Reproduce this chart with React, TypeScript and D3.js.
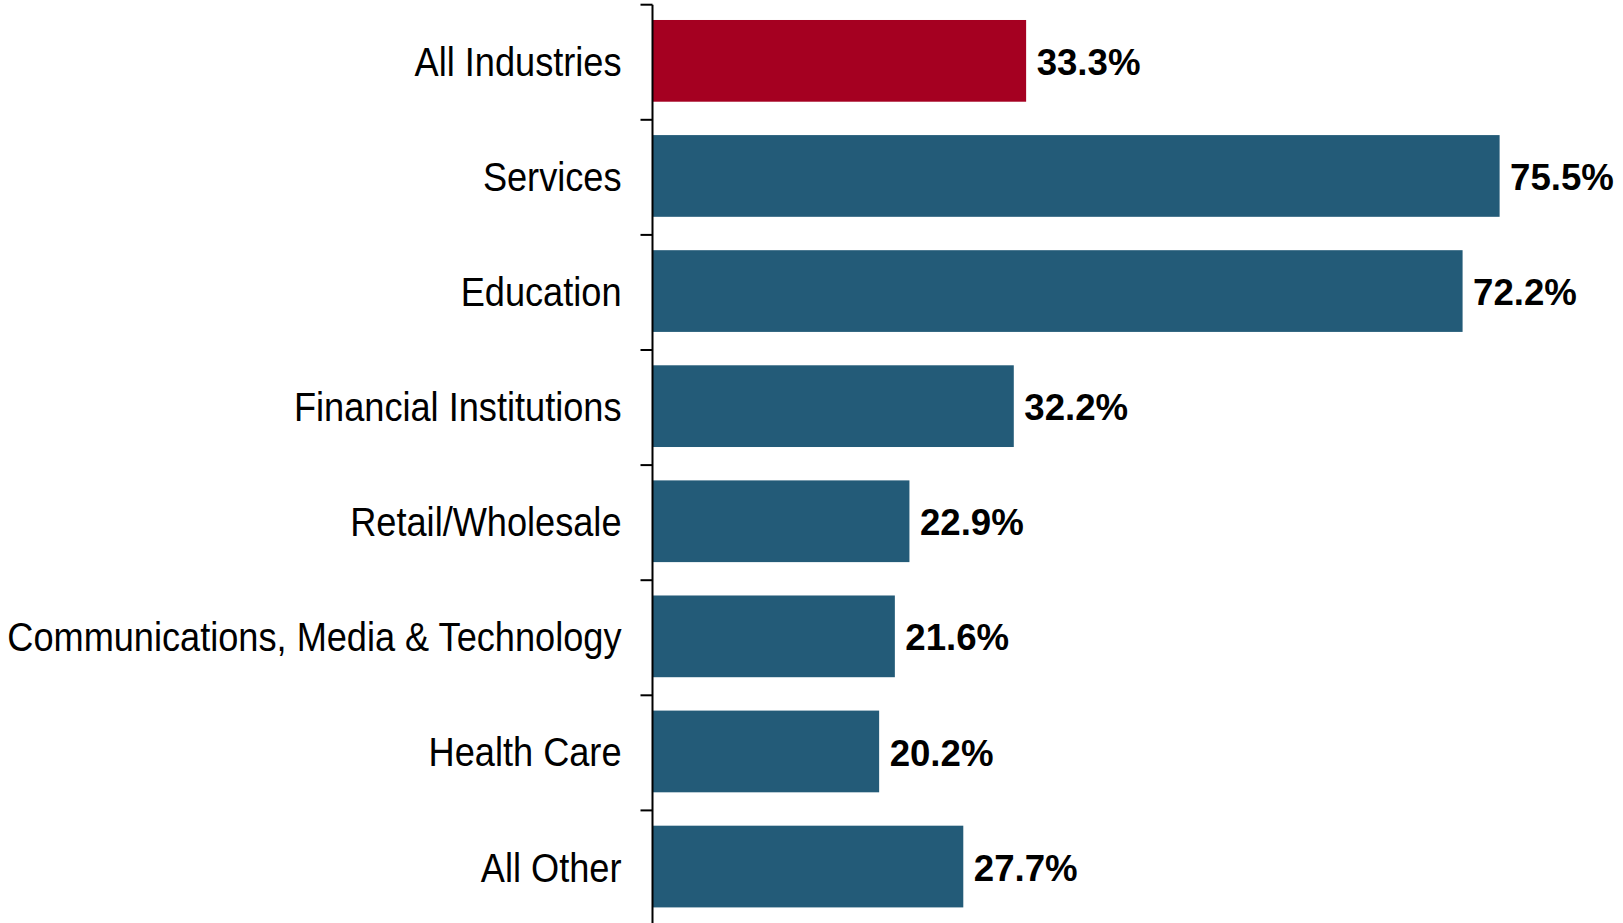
import React from "react";
import * as d3 from "d3";

const categories = [
  "All Industries",
  "Services",
  "Education",
  "Financial Institutions",
  "Retail/Wholesale",
  "Communications, Media & Technology",
  "Health Care",
  "All Other",
];
const values = [33.3, 75.5, 72.2, 32.2, 22.9, 21.6, 20.2, 27.7];
const highlight = ["All Industries"];

const W = 1623;
const H = 923;
const axisX = 652.5;
const top = 3.3;
const step = 115.1;

export default function App() {
  const x = d3.scaleLinear().domain([0, 80]).range([axisX, axisX + 80 * 11.22]);
  const y = d3
    .scaleBand<string>()
    .domain(categories)
    .range([top, top + step * categories.length])
    .paddingInner(0.29)
    .paddingOuter(0.145);
  const st = y.step();
  const font = "'Liberation Sans', Arial, sans-serif";
  return (
    <svg
      width={W}
      height={H}
      style={{ position: "absolute", left: 0, top: 0, background: "#fff" }}
    >
      {categories.map((c, i) => {
        const yy = y(c)!;
        const cy = yy + y.bandwidth() / 2;
        return (
          <g key={c}>
            <rect
              x={x(0)}
              y={yy}
              width={x(values[i]) - x(0)}
              height={y.bandwidth()}
              fill={highlight.includes(c) ? "#A50021" : "#235B78"}
            />
            <g transform={`translate(${x(values[i]) + 10.5},${cy + 0.8}) scale(0.99,1)`}>
              <text
                x={0}
                y={0}
                dy="0.36em"
                fontFamily={font}
                fontWeight="bold"
                fontSize={37}
                fill="#000"
              >
                {values[i].toFixed(1)}%
              </text>
            </g>
            <g transform={`translate(621.5,${cy + 0.4}) scale(0.893,1)`}>
              <text
                x={0}
                y={0}
                dy="0.36em"
                textAnchor="end"
                fontFamily={font}
                fontSize={40.5}
                fill="#000"
              >
                {c}
              </text>
            </g>
          </g>
        );
      })}
      {d3.range(categories.length + 1).map((i) => {
        const ty = top + i * st + 1.4;
        return (
          <line
            key={i}
            x1={axisX - 12}
            x2={axisX}
            y1={ty}
            y2={ty}
            stroke="#000"
            strokeWidth={2}
          />
        );
      })}
      <line x1={axisX} x2={axisX} y1={top + 1.4} y2={H} stroke="#000" strokeWidth={2} />
    </svg>
  );
}
